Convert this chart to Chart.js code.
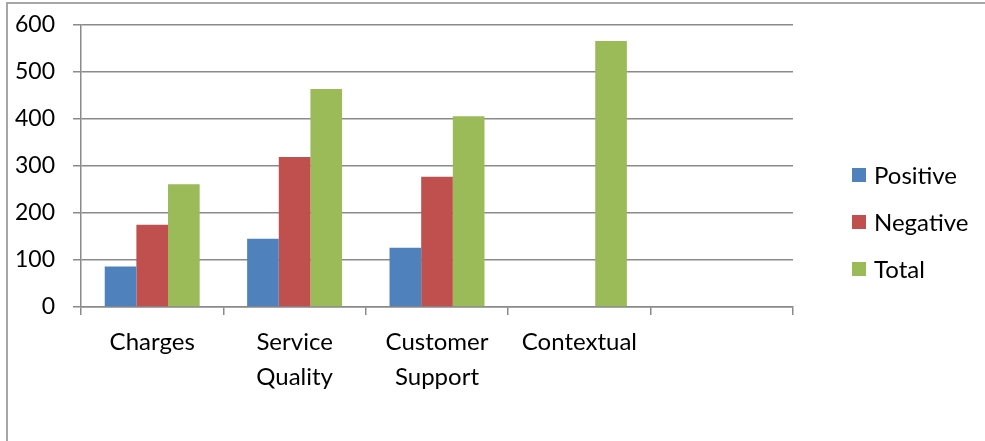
<!DOCTYPE html>
<html>
<head>
<meta charset="utf-8">
<script src="https://cdn.jsdelivr.net/npm/chart.js@4"></script>
<style>
  html, body { margin: 0; padding: 0; background: #fff; }
  #wrap { position: relative; width: 985px; height: 441px; }
</style>
</head>
<body>
<div id="wrap"><canvas id="chart"></canvas></div>
<script>
// sentiment counts per topic
const categories = ['Charges', ['Service', 'Quality'], ['Customer', 'Support'], 'Contextual', ''];
const positive = [86, 145, 126, 0, null];
const negative = [175, 319, 277, 0, null];
const total = [261, 464, 406, 566, null];
const yTicks = [0, 100, 200, 300, 400, 500, 600];

const FONT = 'Lato, "Open Sans", sans-serif';
const GRID = '#8a8a8a';

// outer frame (top + left edge only)
const frame = {
    id: 'frame',
    beforeDraw(chart) {
        const ctx = chart.ctx;
        ctx.save();
        ctx.strokeStyle = '#a6a6a6';
        ctx.lineWidth = 2;
        ctx.beginPath();
        ctx.moveTo(7, 441);
        ctx.lineTo(7, 3);
        ctx.lineTo(985, 3);
        ctx.stroke();
        ctx.restore();
    }
};

// simple legend on the right, built from the datasets
const sideLegend = {
    id: 'sideLegend',
    afterDraw(chart) {
        const ctx = chart.ctx;
        ctx.save();
        ctx.font = '24px ' + FONT;
        ctx.textBaseline = 'middle';
        chart.data.datasets.forEach((ds, i) => {
            const y = 175 + i * 47;
            ctx.fillStyle = ds.backgroundColor;
            ctx.fillRect(852, y - 7, 14, 14);
            ctx.fillStyle = '#000';
            ctx.fillText(ds.label, 874, y + 1);
        });
        ctx.restore();
    }
};

new Chart(document.getElementById('chart'), {
    type: 'bar',
    data: {
        labels: categories,
        datasets: [
            { label: 'Positive', data: positive, backgroundColor: '#4F81BD' },
            { label: 'Negative', data: negative, backgroundColor: '#C0504D' },
            { label: 'Total', data: total, backgroundColor: '#9BBB59' }
        ]
    },
    options: {
        responsive: true,
        maintainAspectRatio: false,
        animation: false,
        layout: { padding: { top: 25, right: 192, left: 0, bottom: 0 } },
        datasets: { bar: { categoryPercentage: 3 / 4.5, barPercentage: 1, borderWidth: 0 } },
        plugins: {
            legend: { display: false },
            tooltip: { enabled: false }
        },
        scales: {
            x: {
                grid: { drawOnChartArea: false, drawTicks: true, tickLength: 8, color: GRID, lineWidth: 1.5 },
                border: { color: GRID, width: 1.5 },
                ticks: { color: '#000', padding: 10, maxRotation: 0, autoSkip: false,
                         font: { family: FONT, size: 24, lineHeight: 1.45 } },
                afterFit(scale) { scale.height = 134; }
            },
            y: {
                min: 0, max: 600,
                afterBuildTicks(scale) { scale.ticks = yTicks.map(v => ({ value: v })); },
                grid: { color: GRID, lineWidth: 1.5, tickLength: 8 },
                border: { color: GRID, width: 1.5 },
                ticks: { color: '#000', padding: 18, font: { family: FONT, size: 23, lineHeight: 1 } },
                afterFit(scale) {
                    scale.width = 81;
                    // label padding shouldn't push the plot area down
                    scale.paddingTop = 0;
                    scale.paddingBottom = 0;
                }
            }
        }
    },
    plugins: [frame, sideLegend]
});
</script>
</body>
</html>
